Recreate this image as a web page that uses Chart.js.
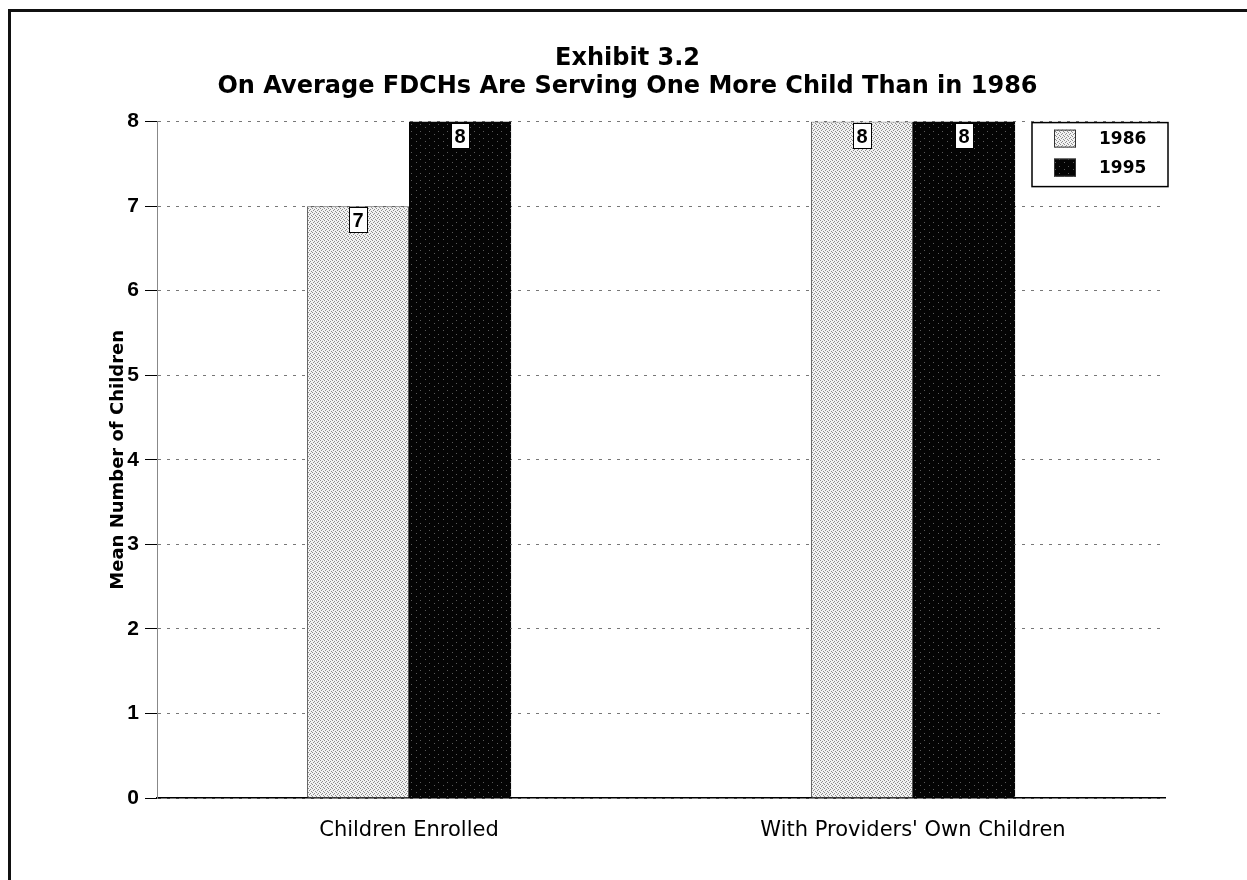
<!DOCTYPE html>
<html>
<head>
<meta charset="utf-8">
<title>Exhibit 3.2</title>
<script src="https://cdn.jsdelivr.net/npm/chart.js@4/dist/chart.umd.min.js"></script>
<style>
  html, body { margin: 0; padding: 0; background: #fff; }
  #wrap { position: relative; width: 1247px; height: 880px; overflow: hidden; }
  #frame { position: absolute; left: 8px; top: 9px; width: 1400px; height: 1000px;
           border-top: 3px solid #111; border-left: 3px solid #111; pointer-events: none; }
</style>
</head>
<body>
<div id="wrap">
  <canvas id="myChart" width="1247" height="880"></canvas>
  <div id="frame"></div>
</div>
<script>
// data
const categories = ['Children Enrolled', "With Providers' Own Children"];
const years = ['1986', '1995'];
const values1986 = [7, 8];
const values1995 = [8, 8];
const yTicks = [0, 1, 2, 3, 4, 5, 6, 7, 8];

const FONT = "'Liberation Sans', Arial, Helvetica, sans-serif";
const WIDE = "'DejaVu Sans', 'Liberation Sans', Arial, sans-serif";

// stippled fills, like the old printer shading
function makePattern(bg, dot, cells) {
  const c = document.createElement('canvas');
  c.width = cells.w; c.height = cells.h;
  const g = c.getContext('2d');
  g.fillStyle = bg;
  g.fillRect(0, 0, c.width, c.height);
  g.fillStyle = dot;
  cells.dots.forEach(d => g.fillRect(d[0], d[1], 1, 1));
  return g.createPattern(c, 'repeat');
}

const lightFill = makePattern('#f2f2f2', '#8c8c8c', { w: 4, h: 4, dots: [[0, 0], [2, 1], [1, 2], [3, 3]] });
const darkFill = makePattern('#040404', '#5a5a5a', { w: 9, h: 7, dots: [[2, 1], [6, 5]] });

// value boxes sitting at the top of each bar
const valueBoxes = {
  id: 'valueBoxes',
  afterDatasetsDraw(chart) {
    const ctx = chart.ctx;
    ctx.save();
    chart.data.datasets.forEach((ds, i) => {
      chart.getDatasetMeta(i).data.forEach((bar, j) => {
        const w = 18, h = 25;
        const x = Math.round(bar.x - w / 2) + 0.5;
        const y = Math.round(bar.y) + 1.5;
        ctx.fillStyle = '#fff';
        ctx.fillRect(x, y, w, h);
        ctx.strokeStyle = '#000';
        ctx.lineWidth = 1;
        ctx.strokeRect(x, y, w, h);
        ctx.fillStyle = '#000';
        ctx.font = 'bold 20px ' + FONT;
        ctx.textAlign = 'center';
        ctx.textBaseline = 'middle';
        ctx.fillText(String(ds.data[j]), bar.x, y + h / 2 + 1);
      });
    });
    ctx.restore();
  }
};

// boxed legend in the top right corner of the plot
const boxLegend = {
  id: 'boxLegend',
  afterDraw(chart) {
    const ctx = chart.ctx;
    const area = chart.chartArea;
    const bx = area.right - 133, by = area.top + 1, bw = 136, bh = 64;
    ctx.save();
    ctx.fillStyle = '#fff';
    ctx.fillRect(bx, by, bw, bh);
    ctx.strokeStyle = '#000';
    ctx.lineWidth = 1.5;
    ctx.strokeRect(bx, by, bw, bh);
    chart.data.datasets.forEach((ds, i) => {
      const cy = by + 16 + i * 29;
      ctx.fillStyle = ds.backgroundColor;
      ctx.fillRect(bx + 22, cy - 9, 22, 18);
      ctx.strokeStyle = '#333';
      ctx.lineWidth = 1;
      ctx.strokeRect(bx + 22.5, cy - 8.5, 21, 17);
      ctx.fillStyle = '#000';
      ctx.font = 'bold 17px ' + WIDE;
      ctx.textAlign = 'left';
      ctx.textBaseline = 'middle';
      ctx.fillText(ds.label, bx + 67, cy + 1);
    });
    ctx.restore();
  }
};

const ctx = document.getElementById('myChart').getContext('2d');
const myChart = new Chart(ctx, {
  type: 'bar',
  data: {
    labels: categories,
    datasets: [{
      label: years[0],
      data: values1986,
      backgroundColor: lightFill,
      borderColor: '#555',
      borderWidth: 1,
    },
    {
      label: years[1],
      data: values1995,
      backgroundColor: darkFill,
      borderColor: '#000',
      borderWidth: 0,
    }]
  },
  options: {
    responsive: false,
    animation: false,
    layout: {
      padding: { top: 0, left: 90, right: 82, bottom: 0 }
    },
    datasets: {
      bar: {
        categoryPercentage: 0.405,
        barPercentage: 1,
      }
    },
    scales: {
      x: {
        grid: { display: false },
        border: { display: true, color: '#000', width: 1.5 },
        ticks: {
          color: '#000',
          padding: 12,
          font: { family: WIDE, size: 21 },
        },
        afterFit: (scale) => { scale.height = 82 },
      },
      y: {
        min: 0,
        max: 8,
        afterBuildTicks: (scale) => { scale.ticks = yTicks.map(v => ({ value: v })) },
        grid: {
          color: '#777',
          lineWidth: 1,
          drawTicks: true,
          tickLength: 12,
          tickColor: '#000',
          tickBorderDash: [],
        },
        border: { display: true, color: '#888', width: 1, dash: [3, 6] },
        ticks: {
          color: '#000',
          padding: 6,
          font: { family: FONT, size: 21, weight: 'bold' },
        },
        title: {
          display: true,
          text: 'Mean Number of Children',
          color: '#000',
          padding: { top: 18, bottom: 0 },
          font: { family: WIDE, size: 18, weight: 'bold' },
        },
        afterFit: (scale) => { scale.width = 67 },
      }
    },
    plugins: {
      title: {
        display: true,
        text: ['Exhibit 3.2', 'On Average FDCHs Are Serving One More Child Than in 1986'],
        color: '#000',
        font: { family: WIDE, size: 24, weight: 'bold', lineHeight: 1.2 },
        padding: { top: 44, bottom: 20 },
      },
      legend: { display: false },
      tooltip: { enabled: false },
    }
  },
  plugins: [valueBoxes, boxLegend]
});
</script>
</body>
</html>
